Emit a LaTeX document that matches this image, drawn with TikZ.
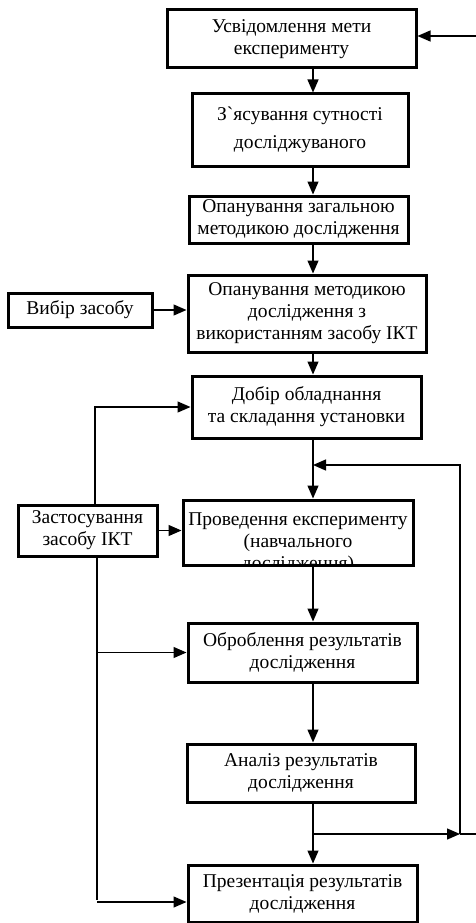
\documentclass[tikz,border=0pt]{standalone}
\usepackage{fontspec}
\setmainfont{Liberation Serif}[Ligatures=TeXOff]
\usetikzlibrary{arrows.meta, positioning}

\begin{document}
\begin{tikzpicture}[x=1pt, y=-1pt,
          blk/.style={draw, line width=3pt, align=center, inner sep=0pt,
            font=\fontsize{19.5}{22}\selectfont},
          ar/.style={line width=1.3pt, -{Triangle[length=13pt, width=11pt]}},
          ln/.style={line width=1.3pt}
        ]
        \useasboundingbox (0,0) rectangle (476,923);
        \node[blk, minimum width=249pt, minimum height=58pt] (goal) at (291.5,39) {Усвідомлення мети\\експерименту};
        \node[blk, minimum width=216pt, minimum height=72pt] (essence) at (300,130) {З`ясування сутності\\[6pt]досліджуваного};
        \node[blk, minimum width=219pt, minimum height=47pt] (method) at (298.5,219.5) {\\[-10pt]Опанування загальною\\методикою дослідження};
        \node[blk, minimum width=238pt, minimum height=77pt] (ictmethod) at (307,313.5) {Опанування методикою\\дослідження з\\використанням засобу ІКТ};
        \node[blk, minimum width=144pt, minimum height=34pt] (choice) at (80,310) {Вибір засобу};
        \node[blk, minimum width=229pt, minimum height=62pt] (setup) at (306.5,407) {Добір обладнання\\та складання установки};
        \begin{scope}
          \clip (184,501) rectangle (412,564);
          \node[blk, draw=none] (runtxt) at (298,543) {Проведення експерименту\\(навчального\\дослідження)};
        \end{scope}
        \node[blk, minimum width=230pt, minimum height=65pt] (run) at (298,532.5) {};
        \node[blk, minimum width=139pt, minimum height=51pt] (apply) at (87.5,530.5) {Застосування\\засобу ІКТ};
        \node[blk, minimum width=229pt, minimum height=59pt] (process) at (302.5,652.5) {Оброблення результатів\\дослідження};
        \node[blk, minimum width=228pt, minimum height=58pt] (analysis) at (301,773) {Аналіз результатів\\дослідження};
        \node[blk, minimum width=229pt, minimum height=57pt] (present) at (302.5,893.5) {Презентація результатів\\дослідження};

        % main line
        \coordinate (ax) at (313,0);
        \draw[ar] (goal.south -| ax) -- (essence.north -| ax);
        \draw[ar] (essence.south -| ax) -- (method.north -| ax);
        \draw[ar] (method.south -| ax) -- (ictmethod.north -| ax);
        \draw[ar] (ictmethod.south -| ax) -- (setup.north -| ax);
        \draw[ar] (setup.south -| ax) -- (run.north -| ax);
        \draw[ar] (run.south -| ax) -- (process.north -| ax);
        \draw[ar] (process.south -| ax) -- (analysis.north -| ax);
        \draw[ar] (analysis.south -| ax) -- (present.north -| ax);

        % side inputs
        \draw[ar] (choice.east) -- (choice.east -| ictmethod.west);
        \draw[ar] (apply.east) -- (apply.east -| run.west);
        \coordinate (lt) at (95,0);
        \coordinate (lb) at (97,900);
        \draw[ar] (apply.north -| lt) |- (setup.west);
        \draw[ln] (apply.south -| lb) -- (lb);
        \draw[ar] (lb |- process.west) -- (process.west);
        \draw[ar] ([yshift=-2pt]lb) -- ([yshift=-2pt]lb -| present.west);

        % feedback loop
        \coordinate (lp1) at (460,834);
        \coordinate (lp2) at (460,465);
        \coordinate (rr) at (476,834);
        \coordinate (rt) at (476,36);
        \draw[ar] (ax |- lp1) -- (lp1);
        \draw[ln] (lp1) -- (rr);
        \draw[ar] (lp1) -- (lp2) -- (lp2 -| ax);
        \draw[ar] (rt) -- (rt -| goal.east);
      \end{tikzpicture}
\end{document}
